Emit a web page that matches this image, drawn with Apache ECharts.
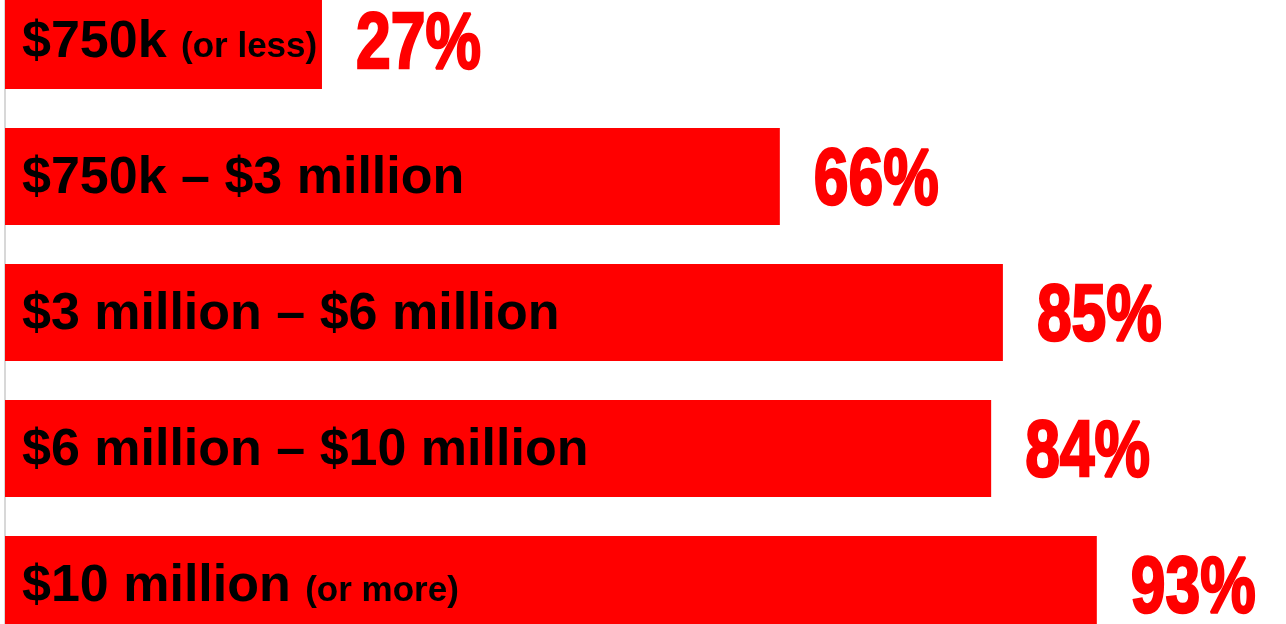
<!DOCTYPE html>
<html>
<head>
<meta charset="utf-8">
<script src="https://cdn.jsdelivr.net/npm/echarts@6/dist/echarts.min.js"></script>
<style>
  html, body { margin: 0; padding: 0; background: #ffffff; }
  #chart { width: 1286px; height: 624px; }
</style>
</head>
<body>
<div id="chart"></div>
<script>
// Bracket names (main part and a smaller note) and the share for each bracket
const bracketMain = ['$750k ', '$750k – $3 million', '$3 million – $6 million', '$6 million – $10 million', '$10 million '];
const bracketNote = ['(or less)', '', '', '', '(or more)'];
const shares = [27, 66, 85, 84, 93];

const categories = bracketMain.map((m, i) => m + bracketNote[i]);

const chart = echarts.init(document.getElementById('chart'), null, { renderer: 'canvas' });

const labelFont = "'Liberation Sans', Arial, Helvetica, sans-serif";
const pctFont = "'Liberation Sans', Arial, sans-serif";

chart.setOption({
  backgroundColor: '#ffffff',
  animation: false,
  grid: { left: 5, right: 107, top: -27.5, bottom: -28.5, outerBoundsMode: 'none', containLabel: false },
  xAxis: {
    type: 'value', min: 0, max: 100, show: false
  },
  yAxis: {
    type: 'category',
    data: categories,
    inverse: true,
    axisLine: { show: true, lineStyle: { color: '#d8d8d8', width: 2 } },
    axisTick: { show: false },
    axisLabel: { show: false },
    splitLine: { show: false }
  },
  series: [
    {
      type: 'bar',
      data: shares,
      barWidth: 97,
      itemStyle: { color: '#ff0000' },
      label: {
        show: true,
        position: 'insideLeft',
        distance: 17,
        offset: [0, 2],
        formatter: (p) => {
          const i = p.dataIndex;
          return '{a|' + bracketMain[i] + '}' + (bracketNote[i] ? '{b|' + bracketNote[i] + '}' : '');
        },
        rich: {
          a: { fontFamily: labelFont, fontWeight: 'bold', fontSize: 52, color: '#000000', lineHeight: 52, verticalAlign: 'bottom' },
          b: { fontFamily: labelFont, fontWeight: 'bold', fontSize: 35, color: '#000000', lineHeight: 35, verticalAlign: 'bottom', padding: [0, 0, 4, 0] }
        }
      }
    },
    {
      // percentage figures to the right of each bar, drawn in a tall condensed style
      type: 'custom',
      data: shares.map((v, i) => [v, i]),
      encode: { x: 0, y: 1 },
      renderItem: (params, api) => {
        const pt = api.coord([api.value(0), api.value(1)]);
        return {
          type: 'text',
          x: pt[0] + 34,
          y: pt[1] + 5,
          scaleX: 0.78,
          style: {
            text: api.value(0) + '%',
            font: 'bold 80px ' + pctFont,
            fill: '#ff0000',
            stroke: '#ff0000',
            lineWidth: 2.5,
            align: 'left',
            verticalAlign: 'middle'
          }
        };
      }
    }
  ]
});
</script>
</body>
</html>
